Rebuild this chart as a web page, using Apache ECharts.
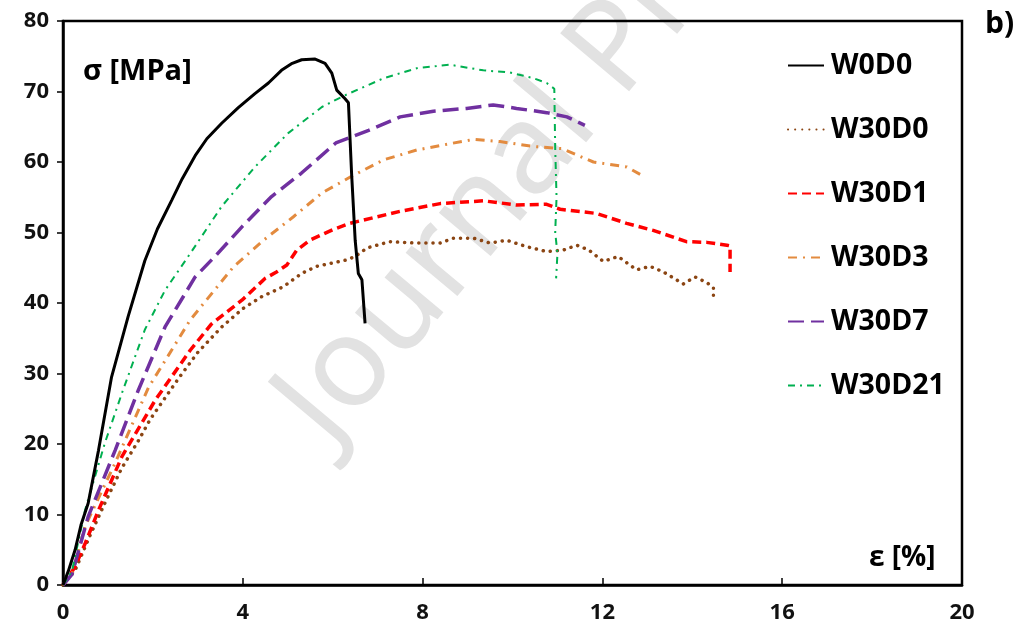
<!DOCTYPE html>
<html><head><meta charset="utf-8">
<script src="https://cdn.jsdelivr.net/npm/echarts@6/dist/echarts.min.js"></script>
<style>html,body{margin:0;padding:0;background:#fff}#c{width:1021px;height:637px}</style>
</head><body><div id="c"></div>
<script>
const xTicks = [0, 4, 8, 12, 16, 20];
const yTicks = [0, 10, 20, 30, 40, 50, 60, 70, 80];
const seriesNames = ['W0D0', 'W30D0', 'W30D1', 'W30D3', 'W30D7', 'W30D21'];
const W0D0 = [[0,0],[0.12,2],[0.27,5],[0.4,8.5],[0.56,11.6],[0.79,19.1],[1.08,29.5],[1.45,38.1],[1.82,46],[2.1,50.5],[2.42,54.6],[2.65,57.6],[2.94,60.9],[3.2,63.3],[3.53,65.5],[3.9,67.7],[4.27,69.7],[4.57,71.2],[4.86,73.0],[5.1,74],[5.31,74.5],[5.61,74.6],[5.83,74.0],[5.98,72.6],[6.09,70.2],[6.27,69.0],[6.35,68.4],[6.42,58.4],[6.50,48.9],[6.57,44.2],[6.65,43.3],[6.72,37.1]];
const W30D0 = [[0,0],[0.27,2.1],[0.6,7],[0.93,11.6],[1.3,16.5],[1.68,20.5],[1.94,23.5],[2.57,29.3],[3.0,33],[3.53,36.6],[4.0,39.2],[4.42,40.9],[4.9,42.3],[5.31,44.2],[5.64,45.2],[6.31,46.1],[6.5,46.6],[6.76,47.8],[7.27,48.7],[7.87,48.5],[8.39,48.5],[8.68,49.2],[9.13,49.2],[9.50,48.5],[9.87,48.9],[10.31,48.0],[10.76,47.3],[11.13,47.5],[11.43,48.2],[11.7,47.5],[12.02,45.9],[12.35,46.6],[12.76,44.7],[13.06,45.2],[13.36,44.4],[13.80,42.7],[14.06,43.7],[14.32,42.9],[14.47,42.2],[14.47,41.0]];
const W30D1 = [[0,0],[0.27,2.6],[0.5,6],[0.79,10.6],[1.31,18.2],[2.05,26.2],[2.83,33.3],[3.3,37],[3.98,40.4],[4.5,43.5],[4.75,44.4],[4.98,45.4],[5.20,47.5],[5.49,48.9],[6.0,50.4],[6.38,51.3],[7.50,53.0],[8.39,54.1],[9.35,54.5],[10.09,53.9],[10.76,54.0],[11.06,53.3],[11.87,52.7],[12.54,51.3],[13.13,50.3],[13.87,48.7],[14.32,48.6],[14.77,48.2],[14.84,48.1],[14.84,44.4]];
const W30D3 = [[0,0],[0.2,1.5],[0.49,8.3],[1.16,17.3],[1.9,28],[2.57,34.9],[2.83,37.6],[3.79,45.1],[4.46,48.9],[5.12,52.2],[5.76,55.6],[6.40,57.9],[7.13,60.3],[7.87,61.7],[8.61,62.6],[9.13,63.2],[9.72,62.9],[10.46,62.2],[11.1,61.9],[11.80,60.0],[12.54,59.3],[12.91,58.0]];
const W30D7 = [[0,0],[0.2,1.5],[0.56,9.7],[1.16,19.1],[1.68,27.7],[2.27,36.6],[2.94,43.7],[3.38,46.6],[3.98,50.8],[4.64,55.1],[5.3,58.4],[6.07,62.7],[6.8,64.5],[7.50,66.4],[8.24,67.2],[8.98,67.6],[9.57,68.1],[10.09,67.6],[10.76,67.0],[11.21,66.4],[11.61,65.2]];
const W30D21 = [[0,0],[0.2,2],[0.49,10.6],[0.93,20.1],[1.31,27.2],[1.82,36.2],[2.27,41.8],[2.86,47.3],[3.53,53.7],[4.27,59.3],[5.01,64.1],[5.76,67.8],[6.25,69.4],[7.14,71.9],[7.87,73.3],[8.61,73.8],[9.35,73.0],[9.94,72.7],[10.46,71.9],[10.76,71.2],[10.93,70.4],[10.95,62],[10.98,55],[10.95,50],[11.0,47],[10.97,43.5]];
const seriesData = [W0D0, W30D0, W30D1, W30D3, W30D7, W30D21];
const colors = ['#000000', '#8B4513', '#FF0000', '#E38B3F', '#7030A0', '#00B050'];
const styles = [
  {width: 3, type: 'solid'},
  {width: 3.5, type: [0.1, 7], cap: 'round'},
  {width: 3.5, type: [9, 5]},
  {width: 3, type: [9, 6, 2, 6]},
  {width: 3.5, type: [16, 7]},
  {width: 2, type: [7, 5, 2, 5]}
];
const FONT = 'Open Sans';
const chart = echarts.init(document.getElementById('c'), null, {renderer: 'canvas'});
chart.setOption({
  animation: false,
  backgroundColor: '#fff',
  grid: {left: 63, right: 59, top: 21, bottom: 52, show: true, borderColor: '#000', borderWidth: 2.5, backgroundColor: 'transparent'},
  xAxis: {
    type: 'value', min: 0, max: 20, interval: 4,
    axisLine: {show: true, onZero: false, lineStyle: {color: '#000', width: 2.5}},
    axisTick: {show: true, inside: true, length: 7, lineStyle: {color: '#000', width: 1.5}},
    splitLine: {show: false},
    axisLabel: {margin: 17, fontFamily: FONT, fontWeight: 'bold', fontSize: 22, color: '#111',
      formatter: v => xTicks.includes(v) ? String(v) : ''}
  },
  yAxis: {
    type: 'value', min: 0, max: 80, interval: 10,
    axisLine: {show: true, onZero: false, lineStyle: {color: '#000', width: 2.5}},
    axisTick: {show: true, inside: false, length: 6, lineStyle: {color: '#000', width: 1.5}},
    splitLine: {show: false},
    axisLabel: {margin: 14, fontFamily: FONT, fontWeight: 'bold', fontSize: 22, color: '#111',
      formatter: v => yTicks.includes(v) ? String(v) : ''}
  },
  legend: {
    orient: 'vertical', left: 782, top: 46, itemWidth: 36, itemHeight: 14, itemGap: 35,
    data: seriesNames,
    itemStyle: {color: 'transparent', borderColor: 'transparent', borderWidth: 0},
    textStyle: {fontFamily: FONT, fontWeight: 'bold', fontSize: 28.5, color: '#000', lineHeight: 26, padding: [0, 0, 0, 2]}
  },
  graphic: [
    {type: 'text', x: 350, y: 466, z: -10, rotation: 50 * Math.PI / 180, silent: true,
     style: {text: 'Journal Pre-proof', fontFamily: 'Noto Sans', fontSize: 126, fill: '#e2e2e2', textAlign: 'left', textVerticalAlign: 'bottom'}},
    {type: 'text', left: 83, top: 57, style: {text: 'σ [MPa]', fontFamily: FONT, fontWeight: 'bold', fontSize: 29, fill: '#000'}},
    {type: 'text', left: 869, top: 544, style: {text: 'ε [%]', fontFamily: FONT, fontWeight: 'bold', fontSize: 28, fill: '#000'}},
    {type: 'text', left: 985, top: 9, style: {text: 'b)', fontFamily: FONT, fontWeight: 'bold', fontSize: 30, fill: '#000'}}
  ],
  series: seriesNames.map((n, i) => ({
    name: n, type: 'line', data: seriesData[i], showSymbol: false, symbol: 'none',
    color: colors[i], lineStyle: Object.assign({color: colors[i]}, styles[i]),
    z: i === 0 ? 3 : 2
  }))
});
</script></body></html>
